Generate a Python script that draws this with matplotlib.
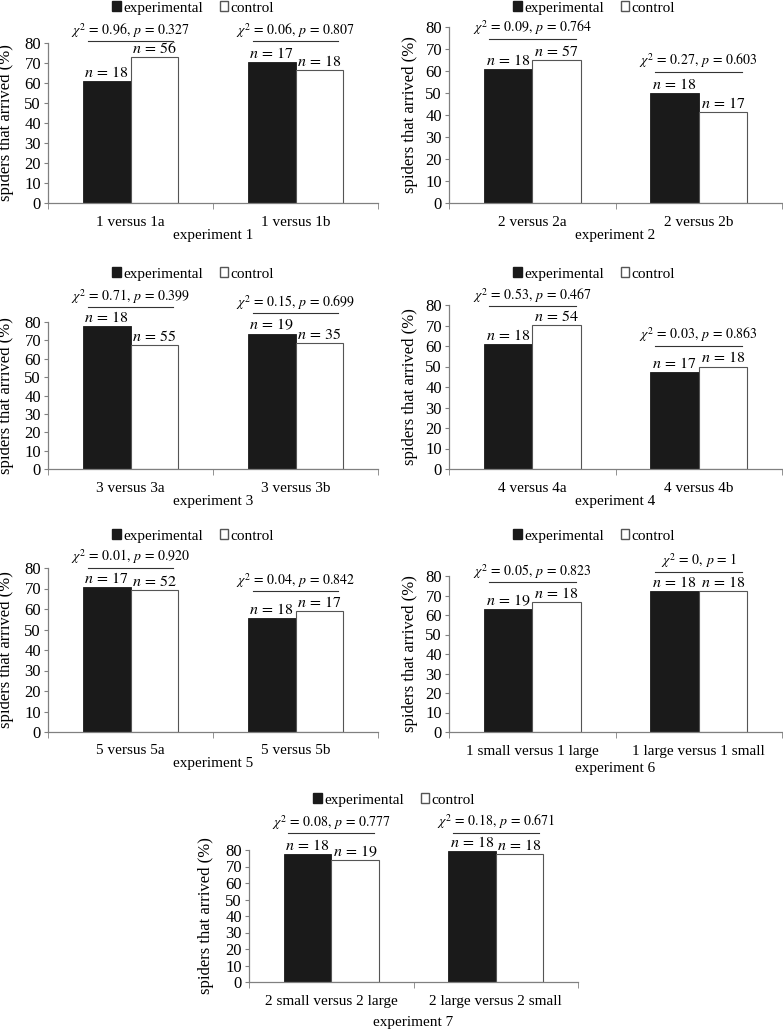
import matplotlib
matplotlib.use("Agg")
import matplotlib.pyplot as plt
from matplotlib.patches import Patch

plt.rcParams['font.family'] = ['Liberation Serif', 'DejaVu Serif']
plt.rcParams['mathtext.fontset'] = 'stix'

# data, one entry per experiment panel
comparisons = [
    ["1 versus 1a", "1 versus 1b"],
    ["2 versus 2a", "2 versus 2b"],
    ["3 versus 3a", "3 versus 3b"],
    ["4 versus 4a", "4 versus 4b"],
    ["5 versus 5a", "5 versus 5b"],
    ["1 small versus 1 large", "1 large versus 1 small"],
    ["2 small versus 2 large", "2 large versus 2 small"],
]
experiment_names = ["experiment 1", "experiment 2", "experiment 3", "experiment 4",
                    "experiment 5", "experiment 6", "experiment 7"]
experimental = [[61.1, 70.6], [61.1, 50.0], [77.8, 73.7], [61.1, 47.1],
                [70.6, 55.6], [63.2, 72.2], [77.8, 79.5]]
control = [[73.2, 66.7], [64.9, 41.2], [67.3, 68.6], [70.4, 50.0],
           [69.2, 58.8], [66.7, 72.2], [73.7, 77.8]]
n_exp = [[18, 17], [18, 18], [18, 19], [18, 17], [17, 18], [19, 18], [18, 18]]
n_ctl = [[56, 18], [57, 17], [55, 35], [54, 18], [52, 17], [18, 18], [19, 18]]
chi2 = [["0.96", "0.06"], ["0.09", "0.27"], ["0.71", "0.15"], ["0.53", "0.03"],
        ["0.01", "0.04"], ["0.05", "0"], ["0.08", "0.18"]]
pvals = [["0.327", "0.807"], ["0.764", "0.603"], ["0.399", "0.699"], ["0.467", "0.863"],
         ["0.920", "0.842"], ["0.823", "1"], ["0.777", "0.671"]]

# layout (pixels): axes left, right, top(80), bottom(0); legend centre; bracket heights
W, H = 783, 1030
rects = [(48, 378, 43, 203), (449, 782, 27, 203),
         (48, 378, 322, 469), (449, 782, 305, 469),
         (48, 378, 568, 732), (449, 782, 576, 732),
         (249, 578, 850, 982)]
legend_pos = [(193, 8), (594, 8), (193, 274), (594, 274),
              (193, 536), (594, 536), (394, 800)]
bracket_y = [[81, 81], [74.7, 59.7], [88.2, 84.8], [79.3, 60.1],
             [80.1, 68.8], [76.9, 82.2], [90.1, 90.5]]
ylabel_right = [14, 418, 14, 418, 14, 418, 214]
xlabel_pad = [0, 0, 0, 0, 0, 3, 6]

fig = plt.figure(figsize=(W / 100, H / 100), dpi=100)
grey = '#808080'
bw = 0.29

for i in range(7):
    l, r, t, b = rects[i]
    ax = fig.add_axes([l / W, 1 - b / H, (r - l) / W, (b - t) / H])
    xs = [0, 1]
    ax.bar([x - bw / 2 for x in xs], experimental[i], bw, color='#1a1a1a',
           edgecolor='#1a1a1a', linewidth=0.6)
    ax.bar([x + bw / 2 for x in xs], control[i], bw, color='white',
           edgecolor='#555555', linewidth=0.8)
    for j, x in enumerate(xs):
        ax.annotate(f'$n\\,=\\,{n_exp[i][j]}$', (x - bw / 2, experimental[i][j]),
                    xytext=(0, 0), textcoords='offset points', ha='center',
                    va='bottom', fontsize=11.5, annotation_clip=False)
        ax.annotate(f'$n\\,=\\,{n_ctl[i][j]}$', (x + bw / 2, control[i][j]),
                    xytext=(0, 0), textcoords='offset points', ha='center',
                    va='bottom', fontsize=11.5, annotation_clip=False)
        yb = bracket_y[i][j]
        ax.plot([x - 0.26, x + 0.26], [yb, yb], color='#333333', lw=0.8,
                clip_on=False)
        ax.annotate(f'$\\chi^2\\,=\\,{chi2[i][j]},\\, p\\,=\\,{pvals[i][j]}$', (x, yb),
                    xytext=(0, 1), textcoords='offset points', ha='center',
                    va='bottom', fontsize=10, annotation_clip=False)
    ax.set_xlim(-0.5, 1.5)
    ax.set_ylim(0, 80)
    ax.set_yticks(range(0, 81, 10))
    ax.set_xticks(xs)
    ax.set_xticklabels(comparisons[i])
    ax.set_xticks([-0.5, 0.5, 1.5], minor=True)
    ax.tick_params(axis='x', which='major', length=0, pad=9, labelsize=11)
    ax.tick_params(axis='x', which='minor', length=4, direction='out', color=grey)
    ax.tick_params(axis='y', length=3, direction='out', color=grey, pad=2,
                   labelsize=12)
    for s in ['top', 'right']:
        ax.spines[s].set_visible(False)
    for s in ['left', 'bottom']:
        ax.spines[s].set_color(grey)
        ax.spines[s].set_linewidth(0.9)
    ax.set_xlabel(experiment_names[i], fontsize=11, labelpad=xlabel_pad[i])
    ax.set_ylabel('spiders that arrived (%)', fontsize=12)
    ax.yaxis.set_label_coords((ylabel_right[i] - l) / (r - l), 0.5)

    handles = [Patch(facecolor='#1a1a1a', edgecolor='#1a1a1a', label='experimental'),
               Patch(facecolor='white', edgecolor='#555555', label='control')]
    lx, ly = legend_pos[i]
    fig.legend(handles=handles, loc='center', bbox_to_anchor=(lx / W, 1 - ly / H),
               ncol=2, frameon=False, fontsize=11, handlelength=0.55,
               handleheight=0.55, handletextpad=0.15, columnspacing=1.1,
               borderpad=0, borderaxespad=0)

fig.savefig('out.png', dpi=100)
